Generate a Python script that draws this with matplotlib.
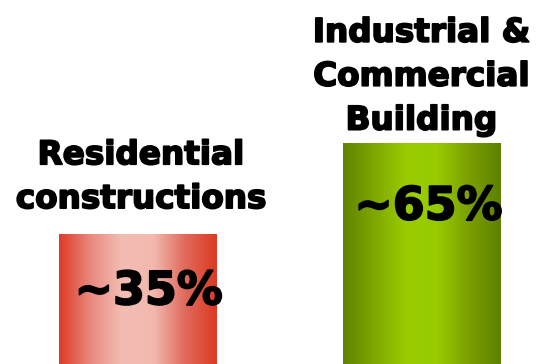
import numpy as np
import matplotlib.pyplot as plt
import matplotlib.patheffects as pe
from matplotlib.colors import LinearSegmentedColormap

categories = ["Residential\nconstructions", "Industrial &\nCommercial\nBuilding"]
shares = [35, 65]
share_labels = ["~35%", "~65%"]


def main():
    gradients = [
        ["#e03a24", "#e88a80", "#f3bdb3", "#f2b8ae", "#e06a5c", "#dc3a22"],
        ["#5f8400", "#7fa800", "#99cc00", "#97ca00", "#7aa000", "#5c8000"],
    ]
    # text placement per bar: (dx in data, dy in points)
    pct_pos = [(0.04, -25.5), (0.025, -30.0)]
    name_pos = [(0.012, 13.5), (0.0, 4.5)]
    heavy = [pe.withStroke(linewidth=1.3, foreground="black")]

    fig = plt.figure(figsize=(5.38, 3.64), dpi=100)
    ax = fig.add_axes([0, 0, 1, 1])
    ax.set_xlim(-0.484, 1.410)
    ax.set_ylim(-7.9, 112.1)
    ax.axis("off")

    x = np.arange(len(shares))
    width = 0.553
    bars = ax.bar(x, shares, width, bottom=-10, color="none")
    for i, bar in enumerate(bars):
        bar.set_height(shares[i] + 10)
        cmap = LinearSegmentedColormap.from_list(f"g{i}", gradients[i])
        grad = np.linspace(0, 1, 256).reshape(1, -1)
        x0, y0 = bar.get_x(), bar.get_y()
        im = ax.imshow(grad, cmap=cmap, aspect="auto", interpolation="bicubic",
                       extent=(x0, x0 + bar.get_width(), y0, y0 + bar.get_height()))
        im.set_clip_path(bar)

        dx, dy = pct_pos[i]
        ax.annotate(share_labels[i], (x[i] + dx, shares[i]), xytext=(0, dy),
                    textcoords="offset points", ha="center", va="top",
                    fontsize=33, fontweight="bold", color="black",
                    path_effects=heavy)
        dx, dy = name_pos[i]
        ax.annotate(categories[i], (x[i] + dx, shares[i]), xytext=(0, dy),
                    textcoords="offset points", ha="center", va="bottom",
                    fontsize=23.5, fontweight="bold", color="black",
                    linespacing=1.42, path_effects=heavy)

    fig.savefig("out.png", dpi=100)


if __name__ == "__main__":
    main()
